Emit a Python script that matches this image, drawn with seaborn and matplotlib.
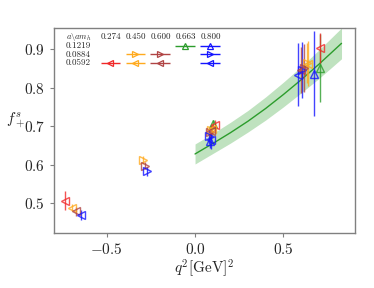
import matplotlib
matplotlib.use('Agg')
import matplotlib.pyplot as plt
import seaborn as sns
import pandas as pd

# --- lattice spacings / heavy masses ---
SPACINGS = ["0.1219", "0.0884", "0.0592"]
MASSES = ["0.274", "0.450", "0.600", "0.663", "0.800"]
MASS_COLORS = {"0.274": "#f02828", "0.450": "#ffaa1e", "0.600": "#b04444",
               "0.663": "#2c9c2c", "0.800": "#1414ff"}
SPACING_MARKERS = {"0.1219": "^", "0.0884": ">", "0.0592": "<"}

# --- form factor data per ensemble (a, am_h) ---
ens_a = ["0.1219", "0.1219", "0.0884", "0.0884", "0.0884",
         "0.0592", "0.0592", "0.0592", "0.0592"]
ens_m = ["0.663", "0.800", "0.450", "0.600", "0.800",
         "0.274", "0.450", "0.600", "0.800"]

q2_pts = [
    [0.100, 0.710],
    [0.085, 0.672],
    [-0.295, 0.090, 0.635],
    [-0.283, 0.085, 0.615],
    [-0.272, 0.080, 0.605],
    [-0.735, 0.112, 0.708],
    [-0.695, 0.098, 0.640],
    [-0.672, 0.092, 0.600],
    [-0.645, 0.088, 0.585],
]
f_pts = [
    [0.705, 0.852],
    [0.662, 0.836],
    [0.612, 0.690, 0.865],
    [0.598, 0.685, 0.852],
    [0.583, 0.674, 0.846],
    [0.507, 0.702, 0.903],
    [0.489, 0.694, 0.862],
    [0.479, 0.688, 0.845],
    [0.470, 0.664, 0.834],
]
f_err = [
    [0.012, 0.088],
    [0.018, 0.110],
    [0.010, 0.014, 0.052],
    [0.010, 0.015, 0.062],
    [0.011, 0.020, 0.072],
    [0.024, 0.014, 0.040],
    [0.010, 0.014, 0.058],
    [0.011, 0.016, 0.060],
    [0.013, 0.024, 0.082],
]

# --- fit band (am_h = 0.663 continuum) ---
fit_q2 = [0.0, 0.1, 0.2, 0.3, 0.4, 0.5, 0.6, 0.7, 0.83]
fit_f = [0.628, 0.655, 0.683, 0.713, 0.746, 0.782, 0.820, 0.860, 0.915]
fit_err = [0.026, 0.026, 0.027, 0.028, 0.030, 0.032, 0.034, 0.037, 0.040]

sns.set_style("ticks")
plt.rcParams['font.family'] = 'serif'
plt.rcParams['font.serif'] = ['cmr10', 'DejaVu Serif']
plt.rcParams['mathtext.fontset'] = 'cm'
plt.rcParams['axes.formatter.use_mathtext'] = True
plt.rcParams['axes.unicode_minus'] = True

fig = plt.figure(figsize=(3.74, 2.88), dpi=100)
ax = fig.add_axes([0.144, 0.191, 0.805, 0.712])

fit_df = pd.DataFrame({"q2": fit_q2, "f": fit_f})
lo = [c - e for c, e in zip(fit_f, fit_err)]
hi = [c + e for c, e in zip(fit_f, fit_err)]
ax.fill_between(fit_q2, lo, hi, color="#2ca02c", alpha=0.3, lw=0)
sns.lineplot(data=fit_df, x="q2", y="f", color="#2c9c2c", lw=1.0, ax=ax)

for a, m, qs, fs, es in zip(ens_a, ens_m, q2_pts, f_pts, f_err):
    ax.errorbar(qs, fs, yerr=es, fmt=SPACING_MARKERS[a], color=MASS_COLORS[m],
                mfc='none', ms=6, mew=1.0, elinewidth=1.0, alpha=0.8, zorder=3)

# table-style legend
fs_leg = 6.5
hdr_y = 0.958
row_y = [0.914, 0.871, 0.829]
col_x = [0.188, 0.271, 0.354, 0.437, 0.520]
ax.text(0.040, hdr_y, r"$a\backslash am_h$", transform=ax.transAxes,
        fontsize=6, va='center', ha='left')
for x, m in zip(col_x, MASSES):
    ax.text(x, hdr_y, m, transform=ax.transAxes, fontsize=fs_leg,
            va='center', ha='center')
for y, a in zip(row_y, SPACINGS):
    ax.text(0.040, y, a, transform=ax.transAxes, fontsize=fs_leg,
            va='center', ha='left')
for a, m in zip(ens_a, ens_m):
    x = col_x[MASSES.index(m)]
    y = row_y[SPACINGS.index(a)]
    ax.errorbar([x], [y], xerr=0.033, fmt=SPACING_MARKERS[a], color=MASS_COLORS[m],
                mfc='none', ms=4, mew=0.9, elinewidth=1.0, transform=ax.transAxes)

ax.set_xlim(-0.80, 0.906)
ax.set_ylim(0.423, 0.955)
ax.set_xticks([-0.5, 0.0, 0.5])
ax.set_yticks([0.5, 0.6, 0.7, 0.8, 0.9])
ax.set_xlabel(r"$q^2[\mathrm{GeV}]^2$", fontsize=11, labelpad=0)
ax.set_ylabel(r"$f_+^s$", fontsize=11, rotation=0, labelpad=6)
ax.tick_params(labelsize=11, color="#808080", length=3)
for sp in ax.spines.values():
    sp.set_color("#808080")
    sp.set_linewidth(1.0)

fig.savefig("out.png", dpi=100)
